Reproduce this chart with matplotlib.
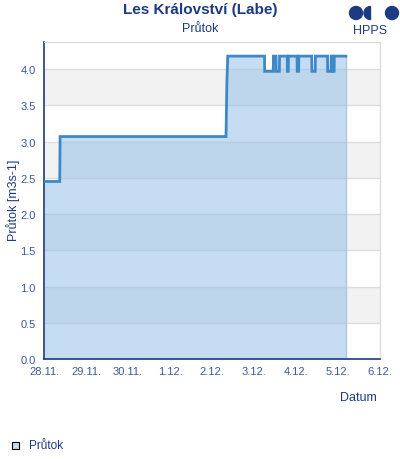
import matplotlib.pyplot as plt
import numpy as np
from matplotlib.patches import Circle, Wedge, Rectangle

plt.rcParams['font.family'] = ['Liberation Sans', 'DejaVu Sans']

# hours since 28.11. 00:00
hours = [0, 9, 9.2, 104, 104.5, 105, 126, 126.1, 131, 131.1, 132.6, 132.7, 134.5, 134.6,
         139, 139.1, 139.6, 139.7, 144.6, 144.7, 145.5, 145.6, 153, 153.1, 155, 155.1,
         162, 162.1, 164, 164.1, 164.8, 164.9, 165.8, 165.9, 172.5]
flow = [2.45, 2.45, 3.07, 3.07, 3.82, 4.18, 4.18, 3.97, 3.97, 4.18, 4.18, 3.97, 3.97, 4.18,
        4.18, 3.97, 3.97, 4.18, 4.18, 3.97, 3.97, 4.18, 4.18, 3.97, 3.97, 4.18,
        4.18, 3.97, 3.97, 4.18, 4.18, 3.97, 3.97, 4.18, 4.18]
day_labels = ['28.11.', '29.11.', '30.11.', '1.12.', '2.12.', '3.12.', '4.12.', '5.12.', '6.12.']
y_ticks = [0.0, 0.5, 1.0, 1.5, 2.0, 2.5, 3.0, 3.5, 4.0]

navy = '#1c3b80'
tick_col = '#3a5a9a'
line_col = '#3d88c6'

fig = plt.figure(figsize=(4, 4.6), dpi=100)
ax = fig.add_axes([44 / 400, 1 - 360 / 460, 336 / 400, 317 / 460])

x = np.array(hours) / 24.0
ax.fill_between(x, 0, flow, color='#8cbbe6', alpha=0.5, lw=0, zorder=2)
ax.plot([x[-1], x[-1]], [0, flow[-1]], color='#aac8e4', lw=1, zorder=2)
ax.plot(x, flow, color=line_col, lw=2, zorder=3, solid_joinstyle='miter')

ax.set_xlim(0, 8)
ax.set_ylim(0, 4.375)

# alternating bands
for lo in [0.5, 1.5, 2.5, 3.5]:
    ax.axhspan(lo, lo + 0.5, color='#f2f2f2', lw=0, zorder=0)
for t in y_ticks[1:]:
    ax.axhline(t, color='#dddddd', lw=1, zorder=1)

ax.set_yticks(y_ticks)
ax.set_yticklabels(['%.1f' % v for v in y_ticks])
ax.set_xticks(range(9))
ax.set_xticklabels(day_labels)
ax.tick_params(axis='both', length=0, labelsize=8, colors=tick_col, pad=6)
ax.tick_params(axis='x', pad=5)

for s in ['top', 'right']:
    ax.spines[s].set_color('#d8d8d8')
for s in ['left', 'bottom']:
    ax.spines[s].set_color(navy)
    ax.spines[s].set_linewidth(1.2)

fig.text(13 / 400, 1 - 200 / 460, 'Průtok [m3s-1]', rotation=90, ha='center', va='center',
         fontsize=9, color=navy)

fig.text(200 / 400, 1 - 10 / 460, 'Les Království (Labe)', ha='center', va='center',
         fontsize=11, fontweight='bold', color=navy)
fig.text(200 / 400, 1 - 29 / 460, 'Průtok', ha='center', va='center', fontsize=9, color=navy)
fig.text(358 / 400, 1 - 398 / 460, 'Datum', ha='center', va='center', fontsize=9, color=navy)

# logo (display coords, origin bottom-left)
fig.add_artist(Circle((356, 460 - 14), 6.5, transform=None, color=navy))
fig.add_artist(Wedge((370.5, 460 - 14), 6.5, 90, 270, transform=None, color=navy))
fig.add_artist(Circle((392, 460 - 14), 6.5, transform=None, color=navy))
fig.text(370 / 400, 1 - 31 / 460, 'HPPS', ha='center', va='center', fontsize=9, color=navy)

# legend
fig.add_artist(Rectangle((12 / 400, 1 - 450 / 460), 7 / 400, 7 / 460, transform=fig.transFigure,
                         facecolor='#c5ddf1', edgecolor='black', lw=0.8))
fig.text(29 / 400, 1 - 446 / 460, 'Průtok', ha='left', va='center', fontsize=8.5, color=navy)

fig.savefig('out.png', dpi=100)
